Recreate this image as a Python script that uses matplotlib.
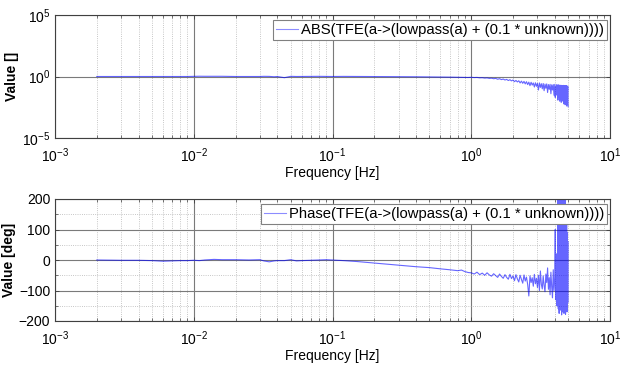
import matplotlib
matplotlib.use("Agg")
import matplotlib.pyplot as plt
import matplotlib.ticker as mticker

plt.rcParams['font.family'] = ['Liberation Sans', 'DejaVu Sans']
plt.rcParams['mathtext.default'] = 'regular'

# frequency grid [Hz]
freq_low = [0.002, 0.003, 0.004, 0.005, 0.006, 0.007, 0.008, 0.009, 0.010, 0.011,
            0.012, 0.014, 0.016, 0.018, 0.020, 0.025, 0.030, 0.032, 0.035, 0.038,
            0.040, 0.045, 0.050, 0.055, 0.060, 0.070, 0.080, 0.090, 0.100, 0.120,
            0.150, 0.200, 0.250, 0.300, 0.350, 0.400, 0.500, 0.600, 0.700, 0.800,
            0.850, 0.900, 0.950]
freq_mid = [1.00, 1.05, 1.10, 1.15, 1.20, 1.25, 1.30, 1.35, 1.40, 1.45,
            1.50, 1.55, 1.60, 1.65, 1.70, 1.75, 1.80, 1.85, 1.90, 1.95,
            2.00, 2.05, 2.10, 2.15, 2.20, 2.25, 2.30, 2.35, 2.40, 2.45,
            2.50, 2.55, 2.60, 2.65, 2.70, 2.75, 2.80, 2.85, 2.90, 2.95,
            3.00, 3.05, 3.10, 3.15, 3.20, 3.25, 3.30, 3.35, 3.40, 3.45,
            3.50, 3.55, 3.60, 3.65, 3.70, 3.75, 3.80, 3.85, 3.90, 3.95]
freq_high = [4.00, 4.03, 4.06, 4.09, 4.12, 4.15, 4.18, 4.21, 4.24, 4.27,
             4.30, 4.33, 4.36, 4.39, 4.42, 4.45, 4.48, 4.51, 4.54, 4.57,
             4.60, 4.63, 4.66, 4.69, 4.72, 4.75, 4.78, 4.81, 4.84, 4.87,
             4.90, 4.93, 4.96, 4.99]

amp_low = [1.0, 1.0, 1.0, 1.0, 0.99, 1.0, 1.0, 1.0, 1.03, 1.05,
           1.04, 1.05, 1.04, 1.02, 1.0, 1.0, 1.0, 1.03, 1.02, 0.95,
           1.0, 0.8, 1.03, 1.0, 1.01, 1.02, 1.03, 1.02, 1.0, 1.02,
           1.0, 0.99, 0.98, 0.97, 0.96, 0.95, 0.93, 0.91, 0.89, 0.87,
           0.86, 0.85, 0.83]
amp_mid = [0.86, 0.82, 0.84, 0.78, 0.80, 0.74, 0.77, 0.70, 0.73, 0.66,
           0.70, 0.60, 0.66, 0.56, 0.62, 0.52, 0.58, 0.47, 0.55, 0.44,
           0.52, 0.38, 0.48, 0.36, 0.45, 0.30, 0.42, 0.28, 0.40, 0.25,
           0.38, 0.22, 0.35, 0.18, 0.34, 0.20, 0.30, 0.14, 0.31, 0.16,
           0.28, 0.08, 0.30, 0.13, 0.26, 0.10, 0.27, 0.07, 0.24, 0.11,
           0.25, 0.05, 0.22, 0.09, 0.23, 0.04, 0.21, 0.08, 0.22, 0.03]
amp_high = [0.23, 0.02, 0.15, 0.05, 0.21, 0.03, 0.20, 0.012, 0.21, 0.02,
            0.19, 0.01, 0.20, 0.015, 0.18, 0.008, 0.19, 0.02, 0.18, 0.01,
            0.19, 0.006, 0.17, 0.012, 0.18, 0.005, 0.17, 0.008, 0.18, 0.004,
            0.17, 0.006, 0.16, 0.0035]

phase_low = [0, -1, -1, -2, -4, -3, -2, -2, -1, -2,
             0, 2, 1, 1, 1, 0, 1, -3, -6, -3,
             -2, -2, 1, -3, -2, -1, 0, 1, 0, -2,
             -5, -10, -14, -17, -20, -22, -25, -29, -32, -35,
             -33, -38, -41]
phase_mid = [-42, -46, -40, -48, -43, -50, -42, -49, -53, -45,
             -51, -57, -46, -54, -60, -48, -57, -63, -47, -61,
             -52, -68, -48, -62, -72, -50, -64, -76, -49, -69,
             -56, -80, -118, -52, -74, -58, -86, -47, -78, -60,
             -90, -50, -100, -36, -80, -95, -52, -84, -104, -46,
             -74, -26, -96, -58, -114, -40, -88, -124, -32, -100]
phase_high = [-60, 100, -130, -70, 20, -150, -40, 250, -160, 250,
              -175, 250, -165, 250, -150, 250, -180, 240, -170, 250,
              -160, 180, -175, 250, -150, 250, -178, 160, -165, 120,
              -170, 90, -140, 60]

freq = freq_low + freq_mid + freq_high
amp = amp_low + amp_mid + amp_high
phase = phase_low + phase_mid + phase_high

label_abs = 'ABS(TFE(a->(lowpass(a) + (0.1 * unknown))))'
label_phase = 'Phase(TFE(a->(lowpass(a) + (0.1 * unknown))))'

W, H = 629, 370
fig = plt.figure(figsize=(W / 100, H / 100), dpi=100)
ax1 = fig.add_axes([55 / W, 1 - 138 / H, 555 / W, 123 / H])
ax2 = fig.add_axes([55 / W, 1 - 321 / H, 555 / W, 122 / H])

fs = 10
line_kw = dict(color='#0000ff', lw=0.8, alpha=0.6)

ax1.loglog(freq, amp, label=label_abs, **line_kw)
ax1.set_ylim(1e-5, 1e5)
ax1.yaxis.set_major_locator(mticker.FixedLocator([1e-5, 1e0, 1e5]))
ax1.yaxis.set_minor_locator(mticker.NullLocator())
ax1.set_ylabel('Value []', fontsize=fs, fontweight='bold', labelpad=2)

ax2.semilogx(freq, phase, label=label_phase, **line_kw)
ax2.set_ylim(-200, 200)
ax2.yaxis.set_major_locator(mticker.MultipleLocator(100))
ax2.yaxis.set_minor_locator(mticker.MultipleLocator(50))
ax2.set_ylabel('Value [deg]', fontsize=fs, fontweight='bold', labelpad=2)

for ax in (ax1, ax2):
    ax.set_xlim(1e-3, 1e1)
    ax.xaxis.set_major_locator(mticker.LogLocator(base=10, numticks=10))
    ax.xaxis.set_minor_locator(mticker.LogLocator(base=10, subs=range(2, 10), numticks=20))
    ax.xaxis.set_minor_formatter(mticker.NullFormatter())
    ax.set_xlabel('Frequency [Hz]', fontsize=fs, labelpad=1)
    ax.grid(which='major', ls='-', color='#7a7a7a', lw=0.8)
    ax.grid(which='minor', ls=':', color='#b4b4b4', lw=0.6)
    ax.set_axisbelow(True)
    ax.tick_params(which='both', direction='in', top=True, right=True,
                   labelsize=fs, color='#404040')
    ax.tick_params(which='major', length=3, width=0.6)
    ax.tick_params(which='minor', length=2, width=0.5)
    ax.tick_params(axis='x', which='major', pad=6)
    for s in ax.spines.values():
        s.set_color('#404040')
        s.set_linewidth(0.8)
    leg = ax.legend(loc='upper right', bbox_to_anchor=(1 - 3 / 555, 1 - 5 / 123),
                    borderaxespad=0, fancybox=False, framealpha=1,
                    edgecolor='#808080', fontsize=10.7, handlelength=1.5,
                    handletextpad=0.2, borderpad=0.2)
    leg.get_frame().set_linewidth(0.8)
    leg.get_lines()[0].set_alpha(0.45)

fig.savefig('out.png', dpi=100)
